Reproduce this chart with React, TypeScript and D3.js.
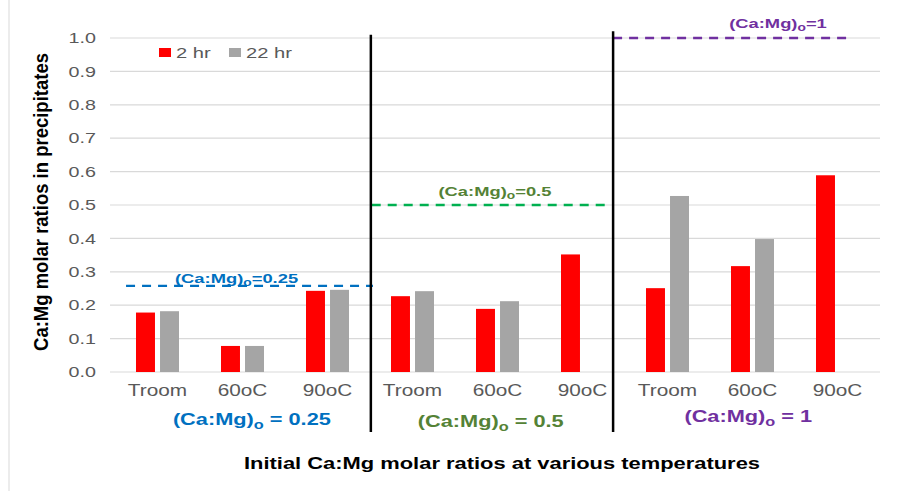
import React from "react";
import * as d3 from "d3";

// data
const groups = ["0.25", "0.5", "1"];
const temps = ["Troom", "60oC", "90oC"];
const series = ["2 hr", "22 hr"];
const hr2 = [0.178, 0.078, 0.243, 0.227, 0.189, 0.352, 0.251, 0.317, 0.589];
const hr22: (number | null)[] = [0.182, 0.078, 0.246, 0.242, 0.212, null, 0.527, 0.398, null];
const yTicks = [0, 0.1, 0.2, 0.3, 0.4, 0.5, 0.6, 0.7, 0.8, 0.9, 1.0];

// initial (Ca:Mg)o reference lines, in fractional category units for x
const refValues = [0.258, 0.5, 1.0];
const refFrom = [0.13, 3.02, 5.86];
const refTo = [3.035, 5.78, 8.65];
const refColors = ["#0070C0", "#00B050", "#7030A0"];
const refLabelColors = ["#0070C0", "#548235", "#7030A0"];
const refLabelAt = [1.43, 4.47, 7.8];
const groupLabelAt = [1.61, 4.42, 7.45];
const dividers = [3.01, 5.86];

const W = 923;
const H = 491;
const SX = 1.36; // the original picture is stretched horizontally

const cats = groups.flatMap((g) => temps.map((t) => `${g}|${t}`));
const colors = ["#FF0000", "#A5A5A5"];

const St = ({ x, y, sx = SX, rot = 0, children, ...rest }: any) => (
  <text
    transform={`translate(${x},${y}) scale(${sx},1)${rot ? ` rotate(${rot})` : ""}`}
    {...rest}
  >
    {children}
  </text>
);

const CaMg = ({ tail, sub = 4 }: { tail: string; sub?: number }) => (
  <>
    <tspan>(Ca:Mg)</tspan>
    <tspan dy={sub} fontSize="75%">o</tspan>
    <tspan dy={-sub}>{tail}</tspan>
  </>
);

export default function App() {
  const y = d3.scaleLinear().domain([0, 1]).range([372, 38]);
  const xi = d3.scaleLinear().domain([0, 9]).range([115, 880]);
  const x0 = d3.scaleBand().domain(cats).range([115, 880]).paddingInner(0.494).paddingOuter(0.247);
  const x1 = d3.scaleBand().domain(series).range([0, x0.bandwidth()]).paddingInner(0.21);
  const vals = [hr2, hr22];
  const font = "'Liberation Sans', Arial, sans-serif";

  return (
    <svg width={W} height={H} style={{ position: "absolute", left: 0, top: 0, background: "#fff" }} fontFamily={font}>
      <line x1={9} x2={9} y1={0} y2={H} stroke="#d9d9d9" />
      {yTicks.map((t) => (
        <g key={t}>
          <line x1={110} x2={880} y1={y(t)} y2={y(t)} stroke="#d9d9d9" strokeWidth={1.2} />
          <St x={96} y={y(t)} dy="0.36em" textAnchor="end" fontSize={14.5} fill="#595959">
            {d3.format(".1f")(t)}
          </St>
        </g>
      ))}

      {vals.map((arr, si) =>
        arr.map((v, i) =>
          v == null ? null : (
            <rect
              key={`${si}-${i}`}
              x={(x0(cats[i]) ?? 0) + (x1(series[si]) ?? 0)}
              y={y(v)}
              width={x1.bandwidth()}
              height={y(0) - y(v)}
              fill={colors[si]}
            />
          )
        )
      )}

      {cats.map((c) => (
        <St key={c} x={(x0(c) ?? 0) + x0.bandwidth() / 2} y={396} textAnchor="middle" fontSize={16} fill="#595959" sx={1.3}>
          {c.split("|")[1]}
        </St>
      ))}

      {refValues.map((v, i) => (
        <g key={v}>
          <line
            x1={xi(refFrom[i])}
            x2={xi(refTo[i])}
            y1={y(v)}
            y2={y(v)}
            stroke={refColors[i]}
            strokeWidth={2.4}
            strokeDasharray="9,7"
          />
          <St
            x={xi(refLabelAt[i])}
            y={y(v) - (i === 0 ? 3 : i === 1 ? 9 : 10)}
            textAnchor="middle"
            fontSize={13.5}
            fontWeight="bold"
            fill={refLabelColors[i]}
          >
            <CaMg tail={`=${groups[i]}`} sub={3} />
          </St>
        </g>
      ))}

      {dividers.map((d, i) => (
        <line key={d} x1={xi(d)} x2={xi(d)} y1={y(i === 0 ? 1.01 : 1.02)} y2={y(-0.18)} stroke="#000" strokeWidth={2.5} />
      ))}

      {groups.map((g, i) => (
        <St
          key={g}
          x={xi(groupLabelAt[i])}
          y={[425, 427, 422][i]}
          textAnchor="middle"
          fontSize={16}
          fontWeight="bold"
          fill={refLabelColors[i]}
        >
          <CaMg tail={` = ${g}`} sub={4} />
        </St>
      ))}

      {series.map((s, i) => (
        <g key={s}>
          <rect x={159 + i * 70} y={48} width={12} height={9} fill={colors[i]} />
          <St x={176 + i * 70} y={57.5} fontSize={15.5} fill="#595959" sx={1.3}>
            {s}
          </St>
        </g>
      ))}

      <St x={502} y={469} textAnchor="middle" fontSize={16} fontWeight="bold" fill="#000" sx={1.37}>
        Initial Ca:Mg molar ratios at various temperatures
      </St>
      <St x={48} y={202} rot={-90} textAnchor="middle" fontSize={18.5} fontWeight="bold" fill="#000" sx={1.12}>
        Ca:Mg molar ratios in precipitates
      </St>
    </svg>
  );
}
